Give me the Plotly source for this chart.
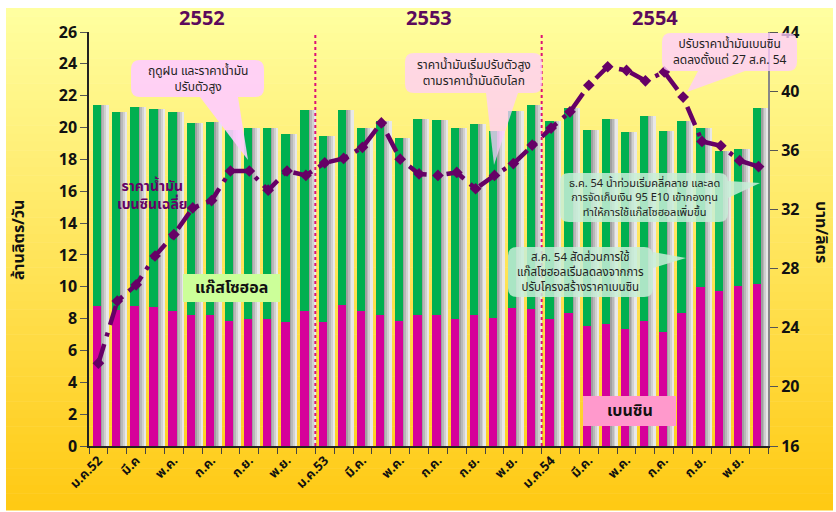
import plotly.graph_objects as go

# ---------------- data ----------------
months = ["ม.ค.52", "ก.พ.", "มี.ค", "เม.ย.", "พ.ค.", "มิ.ย.", "ก.ค.", "ส.ค.", "ก.ย.", "ต.ค.", "พ.ย.", "ธ.ค.",
          "ม.ค.53", "ก.พ.", "มี.ค.", "เม.ย.", "พ.ค.", "มิ.ย.", "ก.ค.", "ส.ค.", "ก.ย.", "ต.ค.", "พ.ย.", "ธ.ค.",
          "ม.ค.54", "ก.พ.", "มี.ค.", "เม.ย.", "พ.ค.", "มิ.ย.", "ก.ค.", "ส.ค.", "ก.ย.", "ต.ค.", "พ.ย.", "ธ.ค."]

# total consumption (gasohol + benzin), million litres / day
total = [21.4, 21.0, 21.3, 21.15, 21.0, 20.3, 20.35, 19.85, 20.0, 20.0, 19.6, 21.1,
         19.5, 21.1, 20.0, 20.4, 19.35, 20.55, 20.5, 19.95, 20.2, 19.8, 21.05, 21.4,
         20.4, 21.2, 19.85, 20.55, 19.7, 20.75, 19.8, 20.4, 20.0, 18.5, 18.65, 21.2]

# benzin consumption, million litres / day
benzin = [8.8, 8.55, 8.8, 8.7, 8.5, 8.25, 8.25, 7.85, 7.97, 7.97, 7.8, 8.5,
          7.8, 8.86, 8.45, 8.2, 7.85, 8.25, 8.2, 8.0, 8.2, 8.06, 8.69, 8.6,
          7.98, 8.38, 7.56, 7.66, 7.33, 7.87, 7.18, 8.35, 10.0, 9.75, 10.05, 10.18]

# average benzin price, baht / litre
price = [21.6, 25.8, 26.9, 28.85, 30.3, 32.1, 32.6, 34.6, 34.6, 33.3, 34.6, 34.3,
         35.15, 35.45, 36.2, 37.85, 35.4, 34.4, 34.3, 34.5, 33.4, 34.3, 35.1, 36.35,
         37.5, 38.6, 40.4, 41.65, 41.4, 40.7, 41.3, 39.6, 36.6, 36.3, 35.3, 34.9]

gasohol = [t - b for t, b in zip(total, benzin)]
xi = list(range(len(months)))
tick_idx = xi[::2]
tick_text = [months[i] for i in tick_idx]
years = ["2552", "2553", "2554"]

FONT = "Tahoma, 'Noto Sans Thai', 'Noto Sans', 'DejaVu Sans', sans-serif"
PURPLE = "#660066"

fig = go.Figure()

# bar shadows (gradient strips)
shadow_cols = ["#a0a0a0", "#b8b8b8", "#d0d0d0", "#e8e8e8"]
for k, c in enumerate(shadow_cols):
    fig.add_trace(go.Bar(x=xi, y=total, base=0, width=0.1, offset=0.14 + 0.1 * k,
                         marker=dict(color=c, line=dict(width=0)), hoverinfo="skip",
                         showlegend=False))

fig.add_trace(go.Bar(x=xi, y=benzin, base=0, width=0.44, offset=-0.3, name="เบนซิน",
                     marker=dict(color="#D6009A", line=dict(width=0))))
fig.add_trace(go.Bar(x=xi, y=gasohol, base=benzin, width=0.44, offset=-0.3, name="แก๊สโซฮอล",
                     marker=dict(color="#00B050", line=dict(width=0))))

fig.add_trace(go.Scatter(x=xi, y=price, yaxis="y2", mode="lines+markers", name="ราคาน้ำมันเบนซินเฉลี่ย",
                         line=dict(color=PURPLE, width=4.5, dash="20px,8px,4px,8px"),
                         marker=dict(symbol="diamond", size=9, color=PURPLE)))

# ---------- layout helpers (pixel -> paper) ----------
L, R, T, B = 89, 768, 32, 446
def px(x):
    return (x - L) / (R - L)
def py(y):
    return (B - y) / (B - T)

def rrect(x0, y0, x1, y1, r=9):
    rx, ry = r / (R - L), r / (B - T)
    a0, a1, b0, b1 = px(x0), px(x1), py(y1), py(y0)  # b0 bottom, b1 top
    return (f"M{a0+rx},{b1} L{a1-rx},{b1} Q{a1},{b1} {a1},{b1-ry} L{a1},{b0+ry} "
            f"Q{a1},{b0} {a1-rx},{b0} L{a0+rx},{b0} Q{a0},{b0} {a0},{b0+ry} "
            f"L{a0},{b1-ry} Q{a0},{b1} {a0+rx},{b1} Z")

def tri(pts):
    return "M" + " L".join(f"{px(x)},{py(y)}" for x, y in pts) + " Z"

shapes = []
# background gradient
x0g, x1g, ytop, ybot = 6, 833, 8, 510
n = 60
c0 = (255, 255, 160)
c1 = (255, 202, 20)
for i in range(n):
    t = i / (n - 1)
    col = tuple(int(c0[j] + (c1[j] - c0[j]) * t) for j in range(3))
    ya = ytop + (ybot - ytop) * i / n
    yb = ytop + (ybot - ytop) * (i + 1) / n + 0.5
    shapes.append(dict(type="rect", xref="paper", yref="paper", layer="below",
                       x0=px(x0g), x1=px(x1g), y0=py(yb), y1=py(ya),
                       fillcolor="rgb(%d,%d,%d)" % col, line=dict(width=0)))

# year separators
for xs in (11.5, 23.5):
    shapes.append(dict(type="line", xref="x", yref="paper", x0=xs, x1=xs, y0=0, y1=1,
                       line=dict(color="#DD1177", width=2, dash="dot"), layer="above"))

PINK = "#FFCCFF"
MINT = "#C8EED8"
callouts = [
    ((131, 60, 264, 97), [(200, 97), (238, 97), (248, 160)], PINK, 0.9, 12,
     "ฤดูฝน และราคาน้ำมัน<br>ปรับตัวสูง"),
    ((405, 53, 542, 93), [(486, 93), (518, 93), (494, 165)], PINK, 0.75, 12,
     "ราคาน้ำมันเริ่มปรับตัวสูง<br>ตามราคาน้ำมันดิบโลก"),
    ((662, 33, 797, 71), [(698, 71), (745, 71), (687, 92)], PINK, 0.78, 12,
     "ปรับราคาน้ำมันเบนซิน<br>ลดลงตั้งแต่ 27 ส.ค. 54"),
    ((560, 173, 728, 222), [(728, 181), (728, 198), (760, 183)], MINT, 0.85, 11,
     "ธ.ค. 54 น้ำท่วมเริ่มคลี่คลาย และลด<br>การจัดเก็บเงิน 95 E10 เข้ากองทุน<br>ทำให้การใช้แก๊สโซฮอลเพิ่มขึ้น"),
    ((508, 247, 653, 297), [(653, 252), (653, 268), (686, 258)], MINT, 0.85, 11.5,
     "ส.ค. 54 สัดส่วนการใช้<br>แก๊สโซฮอลเริ่มลดลงจากการ<br>ปรับโครงสร้างราคาเบนซิน"),
]

annotations = []
for (bx0, by0, bx1, by1), pts, col, op, fs, txt in callouts:
    shapes.append(dict(type="path", xref="paper", yref="paper", path=rrect(bx0, by0, bx1, by1),
                       fillcolor=col, opacity=op, line=dict(width=0), layer="above"))
    shapes.append(dict(type="path", xref="paper", yref="paper", path=tri(pts),
                       fillcolor=col, opacity=op, line=dict(width=0), layer="above"))
    annotations.append(dict(xref="paper", yref="paper", x=px((bx0 + bx1) / 2), y=py((by0 + by1) / 2),
                            text=txt, showarrow=False, xanchor="center", yanchor="middle",
                            font=dict(family=FONT, size=fs, color="#222222"), align="center"))

# legend-like labels
shapes.append(dict(type="rect", xref="paper", yref="paper", x0=px(183), x1=px(280), y0=py(302), y1=py(274),
                   fillcolor="#CCFF99", line=dict(width=0), layer="above"))
shapes.append(dict(type="rect", xref="paper", yref="paper", x0=px(583), x1=px(676), y0=py(426), y1=py(396),
                   fillcolor="#FF99CC", line=dict(width=0), layer="above"))

def label(x, y, text, size, color, **kw):
    annotations.append(dict(xref="paper", yref="paper", x=px(x), y=py(y), text=text,
                            showarrow=False, xanchor="center", yanchor="middle",
                            font=dict(family=FONT, size=size, color=color, weight="bold"), **kw))

label(231, 288, "แก๊สโซฮอล", 16, "#111111")
label(630, 411, "เบนซิน", 16, "#111111")
label(152, 195, "ราคาน้ำมัน<br>เบนซินเฉลี่ย", 14, PURPLE, align="center")

# year labels
for k, yr in enumerate(years):
    xc = L + (12 * k + 6) * (R - L) / 36
    label(xc, 19, yr, 20, "#5C0A5C")

# axis titles
label(19, 240, "ล้านลิตร/วัน", 16, "#111111", textangle=-90)
label(821, 232, "บาท/ลิตร", 16, "#111111", textangle=90)

fig.update_layout(
    width=836, height=512,
    margin=dict(l=L, r=836 - R, t=T, b=512 - B, pad=0),
    paper_bgcolor="white", plot_bgcolor="white",
    barmode="overlay", bargap=0, showlegend=False,
    font=dict(family=FONT, color="#111111"),
    shapes=shapes, annotations=annotations,
    xaxis=dict(range=[-0.5, 35.5], tickmode="array", tickvals=tick_idx, ticktext=tick_text,
               tickangle=-45, ticks="", showline=True, linecolor="#222222", linewidth=1.5,
               showgrid=False, zeroline=False,
               tickfont=dict(family=FONT, size=13, color="#111111", weight="bold"),
               minor=dict(ticks="outside", ticklen=6, tickcolor="#444444", tick0=-0.5, dtick=1,
                          showgrid=False)),
    yaxis=dict(range=[0, 26], dtick=2, ticks="outside", ticklen=7, tickcolor="#555555",
               showline=True, linecolor="#222222", linewidth=1.5, showgrid=False, zeroline=False,
               tickfont=dict(family=FONT, size=16, color="#111111", weight="bold")),
    yaxis2=dict(range=[16, 44], dtick=4, overlaying="y", side="right", ticks="outside",
                ticklen=8, tickcolor="#555555", showline=True, linecolor="#888888", linewidth=2,
                showgrid=False, zeroline=False,
                tickfont=dict(family=FONT, size=16, color="#111111", weight="bold")),
)

fig.write_html("out.html", config={"displayModeBar": False},
               post_script="document.body.style.margin='0';")
